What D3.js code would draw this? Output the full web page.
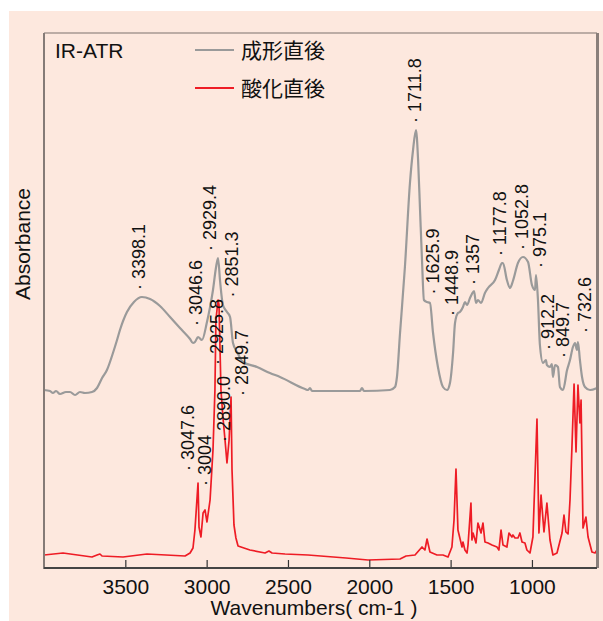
<!DOCTYPE html>
<html><head><meta charset="utf-8">
<script src="https://cdn.jsdelivr.net/npm/d3@7"></script>
<style>body{margin:0;background:#fff}svg{display:block}</style>
</head><body>
<svg id="c" width="603" height="621"></svg>
<script>
// ---- data ----
const seriesNames = ["成形直後", "酸化直後"];
const xTicks = [3500, 3000, 2500, 2000, 1500, 1000];

const wnGrey = [4000,3963,3945,3926,3902,3865,3840,3809,3779,3748,3705,3674,3643,3613,3576,3551,3533,3490,3447,3398,3348,3287,3225,3164,3102,3084,3072,3053,3029,2998,2979,2961,2943,2930,2918,2900,2875,2856,2838,2813,2777,2690,2611,2549,2395,2377,2365,2352,2303,2143,2057,2045,2033,1873,1842,1830,1811,1781,1750,1731,1713,1700,1688,1676,1664,1645,1627,1608,1578,1547,1522,1504,1485,1473,1455,1443,1424,1412,1399,1381,1369,1356,1344,1332,1313,1289,1270,1227,1203,1184,1178,1154,1135,1117,1086,1055,1024,1000,981,975,963,951,932,914,908,889,877,871,858,840,828,809,784,766,748,735,723,717,705,692,674,643,600];
const absGrey = [1.78,1.77,1.75,1.77,1.74,1.76,1.76,1.73,1.76,1.75,1.76,1.80,1.90,1.98,2.15,2.28,2.38,2.56,2.66,2.71,2.69,2.62,2.51,2.40,2.29,2.25,2.26,2.31,2.28,2.46,2.61,2.78,3.00,3.10,2.88,2.63,2.56,2.51,2.25,2.16,2.06,2.01,1.95,1.91,1.79,1.78,1.80,1.77,1.77,1.77,1.77,1.80,1.77,1.78,1.81,1.91,2.35,3.01,3.85,4.18,4.38,4.08,3.58,3.08,2.68,2.66,2.65,2.35,2.01,1.81,1.78,1.85,2.15,2.45,2.55,2.56,2.61,2.66,2.63,2.70,2.74,2.77,2.65,2.68,2.65,2.75,2.80,2.88,2.98,3.05,3.05,2.88,2.80,2.87,3.05,3.11,3.06,2.83,2.78,2.93,2.68,2.23,2.05,2.08,2.03,2.01,2.04,1.91,2.03,2.01,1.81,1.78,1.98,2.08,2.21,2.25,2.18,2.26,2.08,1.91,1.81,1.78,1.80];

const wnRed = [4000,3883,3705,3674,3656,3643,3514,3367,3133,3102,3084,3072,3053,3047,3035,3022,3010,2998,2979,2961,2949,2943,2930,2924,2912,2900,2887,2875,2862,2850,2844,2832,2820,2807,2734,2641,2617,2598,2518,2377,2143,2008,1811,1774,1719,1676,1658,1645,1627,1584,1547,1516,1492,1479,1467,1455,1430,1424,1412,1399,1393,1375,1369,1362,1344,1332,1313,1301,1289,1270,1246,1215,1203,1190,1178,1154,1141,1123,1117,1104,1086,1074,1061,1043,1031,1012,994,969,957,944,926,908,889,871,846,815,803,791,778,766,754,741,729,717,705,698,686,668,655,631,612,600];
const absRed = [0.13,0.15,0.11,0.13,0.14,0.12,0.11,0.14,0.12,0.15,0.20,0.38,0.85,0.41,0.31,0.55,0.58,0.46,0.68,1.18,1.78,2.48,2.68,2.63,1.78,1.51,1.28,1.05,1.28,1.71,0.98,0.43,0.30,0.22,0.18,0.15,0.17,0.15,0.14,0.13,0.10,0.08,0.09,0.12,0.13,0.21,0.18,0.29,0.16,0.13,0.13,0.11,0.21,0.48,0.99,0.38,0.21,0.26,0.18,0.15,0.23,0.65,0.28,0.35,0.25,0.45,0.35,0.45,0.26,0.25,0.23,0.21,0.18,0.38,0.23,0.21,0.35,0.31,0.33,0.30,0.30,0.35,0.26,0.25,0.18,0.15,0.31,1.49,0.35,0.73,0.36,0.65,0.28,0.13,0.15,0.35,0.53,0.36,0.34,0.68,1.21,1.84,1.16,1.83,1.45,1.68,0.40,0.51,0.31,0.16,0.15,0.18];

const peakLabelsGrey = ["3398.1","3046.6","2929.4","2851.3","1711.8","1625.9","1448.9","1357","1177.8","1052.8","975.1","912.2","849.7","732.6"];
const peakLabelsRed = ["3047.6","3004","2925.8","2890.0","2849.7"];

// ---- layout (not data) ----
const labelLayout = {
  "3398.1":[3,7], "3046.6":[3,11], "2929.4":[-2,7], "2851.3":[7,18],
  "1711.8":[5,7], "1625.9":[9,8], "1448.9":[-1,-5], "1357":[5,6],
  "1177.8":[3,7], "1052.8":[5,7], "975.1":[10,7], "912.2":[8,10],
  "849.7":[13,7], "732.6":[16,10],
  "3047.6":[-5,12], "3004":[5,24], "2925.8":[4,-65], "2890.0":[5,-25], "2849.7":[17,1]
};
const W = 603, H = 621;
const L = 44, T = 33, R = 597, B = 568;
const FONT = '"Liberation Sans", Arial, sans-serif';
const CJK = '"Noto Sans CJK JP", sans-serif';
const GREY = "#9a9a9a", RED = "#ee1c25";

const svg = d3.select("#c");
svg.append("rect").attr("x",9).attr("y",11).attr("width",W-9).attr("height",H-11).attr("fill","#fde8de");

const x = d3.scaleLinear().domain([4000,600]).range([L,R]);
const y = d3.scaleLinear().domain([0,5.35]).range([B,T]);

svg.append("clipPath").attr("id","clip").append("rect")
  .attr("x",L).attr("y",T).attr("width",R-L).attr("height",B-T);

const greyData = wnGrey.map((w,i)=>[w,absGrey[i]]);
const redData = wnRed.map((w,i)=>[w,absRed[i]]);

const g = svg.append("g").attr("clip-path","url(#clip)");
g.append("path").datum(greyData)
  .attr("d", d3.line().x(d=>x(d[0])).y(d=>y(d[1])).curve(d3.curveMonotoneX))
  .attr("fill","none").attr("stroke",GREY).attr("stroke-width",2.2).attr("stroke-linejoin","round");
g.append("path").datum(redData)
  .attr("d", d3.line().x(d=>x(d[0])).y(d=>y(d[1])))
  .attr("fill","none").attr("stroke",RED).attr("stroke-width",1.7).attr("stroke-linejoin","round");

// frame
svg.append("line").attr("x1",L).attr("x2",R).attr("y1",T).attr("y2",T).attr("stroke","#7d716d").attr("stroke-width",1.2);
svg.append("line").attr("x1",R+0.5).attr("x2",R+0.5).attr("y1",T).attr("y2",B).attr("stroke","#8a7f7b").attr("stroke-width",3);
svg.append("line").attr("x1",L).attr("x2",L).attr("y1",T).attr("y2",B+1).attr("stroke","#857b77").attr("stroke-width",2);

// x axis
const ax = svg.append("g").attr("transform",`translate(0,${B})`)
  .call(d3.axisBottom(x).tickValues(xTicks).tickSizeInner(-8).tickSizeOuter(0).tickPadding(11).tickFormat(d3.format("d")));
ax.select(".domain").remove();
ax.selectAll(".tick line").attr("stroke","#333").attr("stroke-width",1.2);
ax.selectAll(".tick text").attr("font-family",FONT).attr("font-size",21).attr("fill","#111");
svg.append("line").attr("x1",L).attr("x2",R).attr("y1",B).attr("y2",B).attr("stroke","#444").attr("stroke-width",1.8);

svg.append("text").attr("x",314).attr("y",615).attr("text-anchor","middle")
  .attr("font-family",FONT).attr("font-size",21).attr("fill","#111").text("Wavenumbers( cm-1 )");
svg.append("text").attr("transform","translate(30,244) rotate(-90)").attr("text-anchor","middle")
  .attr("font-family",FONT).attr("font-size",21).attr("fill","#111").text("Absorbance");

// legend
svg.append("text").attr("x",55).attr("y",58).attr("font-family",FONT).attr("font-size",21).attr("fill","#111").text("IR-ATR");
const legY = [50, 88];
[GREY, RED].forEach((c,i)=>{
  svg.append("line").attr("x1",195).attr("x2",234).attr("y1",legY[i]).attr("y2",legY[i]).attr("stroke",c).attr("stroke-width",2);
  svg.append("text").attr("x",241).attr("y",legY[i]+8).attr("font-family",CJK).attr("font-size",21).attr("fill","#111").text(seriesNames[i]);
});

// peak labels
function interp(wns, abs, w){
  for(let i=0;i<wns.length-1;i++){
    if(w<=wns[i] && w>=wns[i+1]){
      const t=(wns[i]-w)/(wns[i]-wns[i+1]);
      return abs[i]+(abs[i+1]-abs[i])*t;
    }
  }
  return abs[abs.length-1];
}
function localMax(wns, abs, w){
  let m=-Infinity;
  for(let d=-10; d<=10; d+=0.5) m=Math.max(m, interp(wns,abs,w+d));
  wns.forEach((v,i)=>{ if(Math.abs(v-w)<=10) m=Math.max(m,abs[i]); });
  return m;
}
function drawLabels(list, wns, abs){
  list.forEach(t=>{
    const w=+t, [dx,gap]=labelLayout[t];
    const px=x(w)+dx, py=y(localMax(wns,abs,w))-gap;
    svg.append("text").attr("transform",`translate(${px},${py}) rotate(-90)`)
      .attr("font-family",FONT).attr("font-size",18).attr("fill","#111").text("· "+t);
  });
}
drawLabels(peakLabelsGrey, wnGrey, absGrey);
drawLabels(peakLabelsRed, wnRed, absRed);
</script>
</body></html>
